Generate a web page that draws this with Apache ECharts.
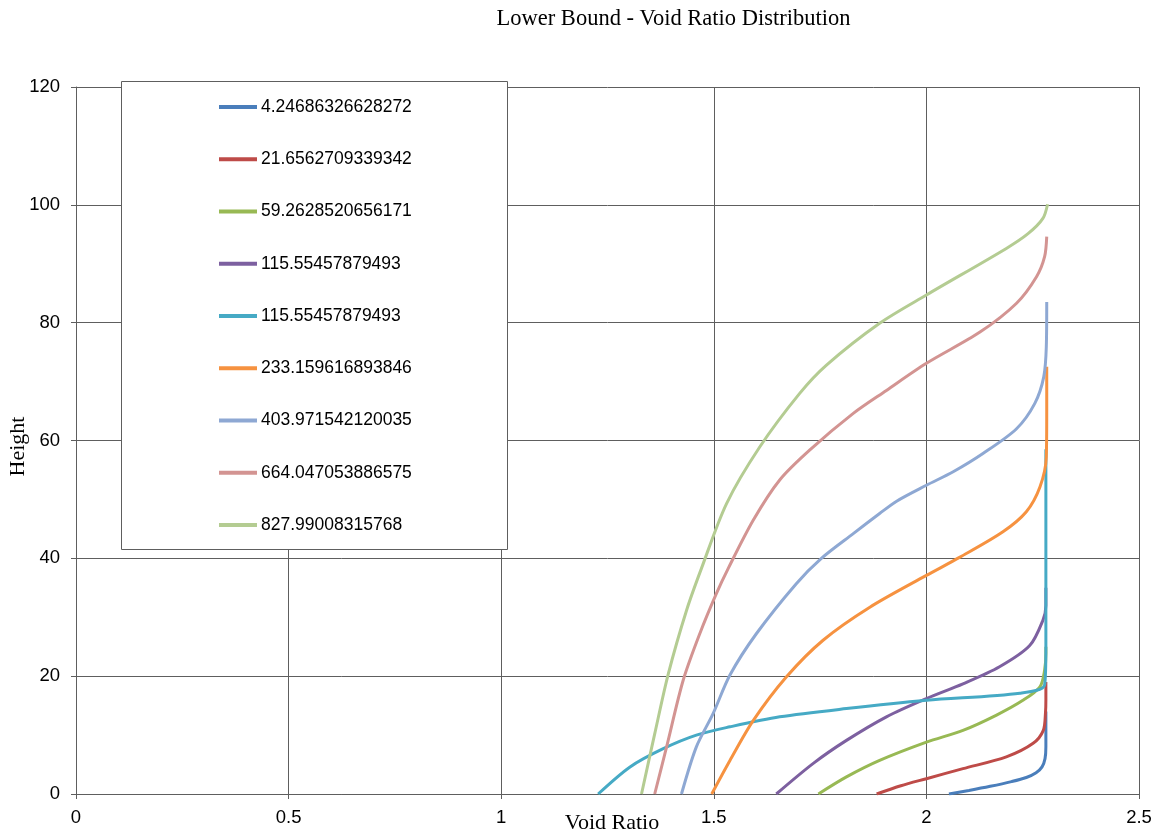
<!DOCTYPE html>
<html>
<head>
<meta charset="utf-8">
<script src="https://cdn.jsdelivr.net/npm/echarts@6/dist/echarts.min.js"></script>
<style>
  html, body { margin: 0; padding: 0; background: #ffffff; }
  #chart { width: 1155px; height: 835px; }
</style>
</head>
<body>
<div id="chart"></div>
<script>
// Legend labels (elapsed time of each profile)
const timeLabels = [
  '4.24686326628272',
  '21.6562709339342',
  '59.2628520656171',
  '115.55457879493',
  '115.55457879493',
  '233.159616893846',
  '403.971542120035',
  '664.047053886575',
  '827.99008315768'
];

// Void ratio (x) and height (y) along each profile
const e1 = [2.053, 2.10, 2.15, 2.20, 2.235, 2.258, 2.272, 2.279, 2.281, 2.281];
const h1 = [0, 0.6, 1.3, 2.1, 2.8, 3.6, 4.6, 6.0, 8.0, 14.0];

const e2 = [1.883, 1.94, 2.0, 2.086, 2.188, 2.251, 2.275, 2.280, 2.281, 2.281];
const h2 = [0, 1.4, 2.6, 4.3, 6.3, 8.6, 10.8, 13.7, 16, 19];

const e3 = [1.746, 1.812, 1.890, 2.0, 2.086, 2.165, 2.227, 2.267, 2.278, 2.281, 2.281];
const h3 = [0, 2.9, 5.7, 8.8, 10.8, 13.4, 15.9, 18.2, 21.0, 23.9, 25];

const e4 = [1.647, 1.734, 1.812, 1.906, 2.0, 2.086, 2.172, 2.243, 2.274, 2.281, 2.281];
const h4 = [0, 5.2, 9.1, 13.1, 16.2, 18.7, 21.6, 25.2, 29.5, 32, 35];

const e5 = [1.228, 1.303, 1.381, 1.459, 1.538, 1.655, 1.812, 2.0, 2.22, 2.278, 2.281, 2.281];
const h5 = [0, 4.6, 7.7, 10.0, 11.4, 13.1, 14.5, 15.9, 17.1, 18.5, 25, 58.5];

const e6 = [1.495, 1.538, 1.593, 1.671, 1.757, 1.867, 2.0, 2.079, 2.18, 2.235, 2.267, 2.282, 2.283, 2.283];
const h6 = [0, 5.7, 12.5, 19.9, 26.1, 31.7, 37.1, 40.2, 44.5, 47.9, 52.1, 57.2, 65, 72.5];

const e7 = [1.424, 1.459, 1.498, 1.538, 1.600, 1.694, 1.753, 1.828, 1.890, 1.930, 2.0, 2.063, 2.133, 2.212, 2.255, 2.276, 2.282, 2.283];
const h7 = [0, 8.0, 13.6, 20.2, 27.2, 35.7, 40.0, 44.2, 47.6, 49.7, 52.4, 54.7, 57.8, 62.0, 66.3, 70.8, 75.9, 83.5];

const e8 = [1.361, 1.389, 1.428, 1.467, 1.506, 1.534, 1.593, 1.655, 1.726, 1.828, 1.906, 2.0, 2.126, 2.212, 2.259, 2.278, 2.283];
const h8 = [0, 8.0, 19.3, 27.2, 34.0, 38.3, 46.5, 53.3, 58.4, 64.6, 68.5, 73.1, 78.4, 83.3, 87.8, 91.2, 94.6];

const e9 = [1.330, 1.361, 1.393, 1.436, 1.471, 1.530, 1.608, 1.702, 1.765, 1.890, 2.0, 2.188, 2.239, 2.274, 2.285];
const h9 = [0, 10.2, 20.4, 31.2, 38.3, 49.3, 58.9, 68.0, 72.8, 79.9, 84.7, 92.6, 95.1, 97.7, 100.1];

const xTicks = [0, 0.5, 1, 1.5, 2, 2.5];
const yTicks = [0, 20, 40, 60, 80, 100, 120];

const profiles = [[e1, h1], [e2, h2], [e3, h3], [e4, h4], [e5, h5], [e6, h6], [e7, h7], [e8, h8], [e9, h9]];
const colors = ['#4A7EBB', '#BE4B48', '#98B954', '#7D60A0', '#46AAC5', '#F69240', '#8EA8D3', '#D39492', '#B4CC92'];

const chart = echarts.init(document.getElementById('chart'), null, { renderer: 'canvas' });

const series = profiles.map(([e, h], i) => ({
  name: String(i),
  type: 'line',
  data: e.map((v, k) => [v, h[k]]),
  showSymbol: false,
  symbol: 'none',
  smooth: 0.3,
  lineStyle: { width: 3, color: colors[i] },
  itemStyle: { color: colors[i] },
  z: 2
}));

const axisFont = { fontFamily: '"Liberation Sans", Arial, sans-serif', fontSize: 18.5, color: '#000' };
const gridColor = '#5e5e5e';

chart.setOption({
  animation: false,
  backgroundColor: '#ffffff',
  grid: { left: 76, top: 87, right: 16, bottom: 41, containLabel: false, outerBoundsMode: 'none' },
  xAxis: {
    type: 'value',
    min: xTicks[0], max: xTicks[xTicks.length - 1], interval: 0.5,
    name: 'Void Ratio',
    nameLocation: 'middle',
    nameGap: 18,
    nameMoveOverlap: false,
    nameTextStyle: { fontFamily: '"Liberation Serif", "Times New Roman", serif', fontSize: 22, color: '#000', padding: [0, 0, 0, 9] },
    axisLine: { show: true, onZero: false, lineStyle: { color: gridColor, width: 1 } },
    axisTick: { show: true, length: 5, inside: false, lineStyle: { color: gridColor } },
    axisLabel: Object.assign({ margin: 14, formatter: v => String(v) }, axisFont),
    splitLine: { show: true, lineStyle: { color: gridColor, width: 1 } }
  },
  yAxis: {
    type: 'value',
    min: yTicks[0], max: yTicks[yTicks.length - 1], interval: 20,
    name: 'Height',
    nameLocation: 'middle',
    nameGap: 47,
    nameRotate: 90,
    nameMoveOverlap: false,
    nameTextStyle: { fontFamily: '"Liberation Serif", "Times New Roman", serif', fontSize: 22, color: '#000', padding: [0, 12, 0, 0] },
    axisLine: { show: true, onZero: false, lineStyle: { color: gridColor, width: 1 } },
    axisTick: { show: true, length: 5, inside: false, lineStyle: { color: gridColor } },
    axisLabel: Object.assign({ margin: 16 }, axisFont),
    splitLine: { show: true, lineStyle: { color: gridColor, width: 1 } }
  },
  legend: {
    orient: 'vertical',
    left: 219,
    top: 98,
    padding: 0,
    itemGap: 34.25,
    itemWidth: 38,
    itemHeight: 4,
    icon: 'rect',
    z: 5,
    data: series.map(s => s.name),
    formatter: name => timeLabels[Number(name)],
    textStyle: { fontFamily: '"Liberation Sans", Arial, sans-serif', fontSize: 17.5, lineHeight: 18, color: '#000', padding: [0, 0, 0, -1] }
  },
  graphic: [
    {
      type: 'rect',
      z: 3,
      shape: { x: 121.5, y: 81.5, width: 386, height: 468 },
      style: { fill: '#ffffff', stroke: '#5e5e5e', lineWidth: 1 }
    },
    {
      type: 'text',
      z: 3,
      style: {
        text: 'Lower Bound - Void Ratio Distribution',
        x: 673.5, y: 19,
        align: 'center', verticalAlign: 'middle',
        font: '22.5px "Liberation Serif", "Times New Roman", serif',
        fill: '#000'
      }
    }
  ],
  series: series
});
</script>
</body>
</html>
